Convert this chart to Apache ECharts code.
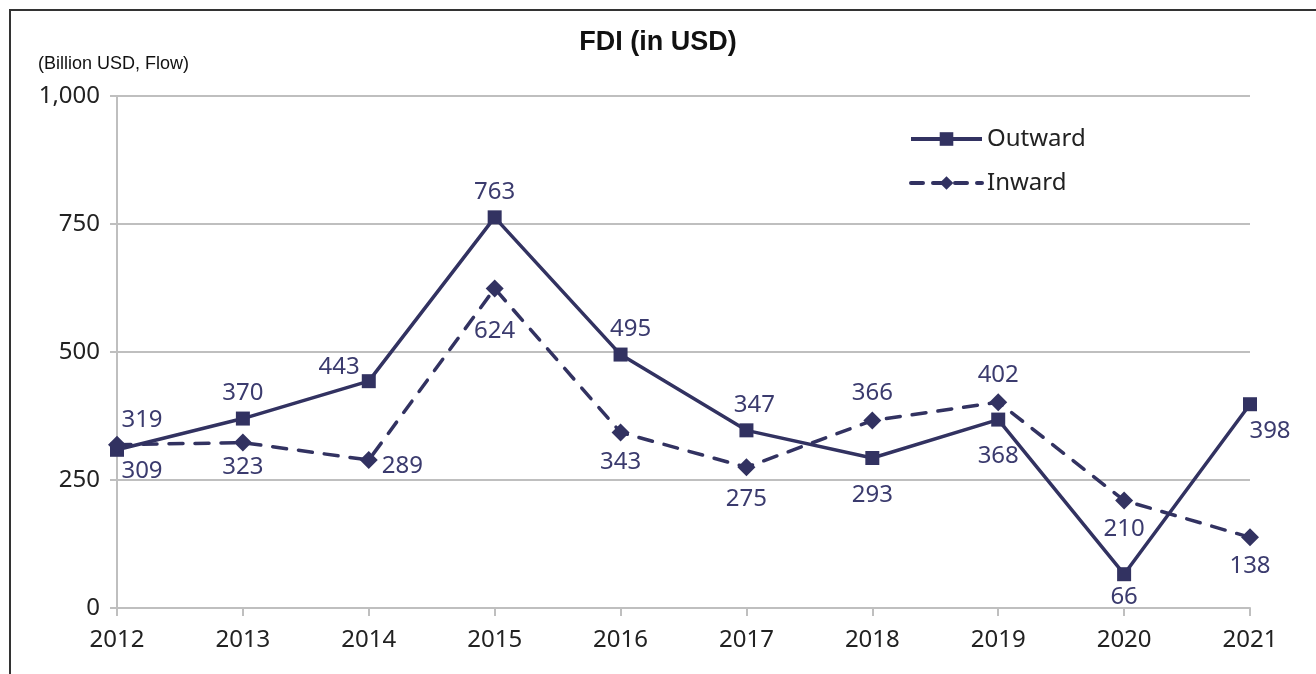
<!DOCTYPE html>
<html lang="en">
<head>
    <meta charset="UTF-8">
    <title>FDI</title>
    <style>
        *{
            margin: 0;
            padding: 0;
        }
        body{
            background: #fff;
            overflow: hidden;
        }
        #frame{
            position: absolute;
            left: 9px;
            top: 9px;
            width: 1400px;
            height: 800px;
            border: 2px solid #333;
        }
    </style>
</head>
<body>
<div id="frame"></div>
<div id="main" style="position:absolute;left:0;top:0;width:1316px;height:674px;"></div>
<script src="https://cdn.jsdelivr.net/npm/echarts@6/dist/echarts.min.js"></script>
<script type="text/javascript">
    var years = ['2012','2013','2014','2015','2016','2017','2018','2019','2020','2021'];
    var outward = [309, 370, 443, 763, 495, 347, 293, 368, 66, 398];
    var inward = [319, 323, 289, 624, 343, 275, 366, 402, 210, 138];
    // label placement per point
    var outPos = ['bottom','top','left','top','top','top','bottom','bottom','bottom','bottom'];
    var inPos = ['top','bottom','right','bottom','bottom','bottom','top','top','bottom','bottom'];

    var navy = '#323261';
    var labelColor = '#3b3b6e';
    var font = '"Noto Sans", "Open Sans", sans-serif';

    function buildData(values, pos, extra){
        var arr = [];
        for(let i = 0; i < values.length; i++){
            let lbl = {position: pos[i]};
            if(extra[i]) Object.assign(lbl, extra[i]);
            arr.push({value: values[i], label: lbl});
        }
        return arr;
    }

    var outExtra = {
        0: {offset: [25, -4]},
        2: {offset: [4, -14]},
        4: {offset: [10, 0]},
        5: {offset: [8, 0]},
        6: {offset: [0, 12]},
        7: {offset: [0, 12]},
        8: {offset: [0, -2]},
        9: {offset: [20, 2]}
    };
    var inExtra = {
        0: {offset: [25, 2]},
        1: {offset: [0, -2]},
        2: {offset: [-2, 6]},
        3: {offset: [0, 16]},
        4: {offset: [0, 3]},
        5: {offset: [0, 5]},
        8: {offset: [0, 2]},
        9: {offset: [0, 2]}
    };

    var myChart = echarts.init(document.getElementById('main'));
    myChart.setOption({
        animation: false,
        title: [{
            text: 'FDI (in USD)',
            left: 'center',
            top: 24,
            textStyle: {fontFamily: 'Liberation Sans, Arial', fontWeight: 'bold', fontSize: 27, color: '#111'}
        }, {
            text: '(Billion USD, Flow)',
            left: 33,
            top: 50,
            textStyle: {fontFamily: 'Liberation Sans, Arial', fontWeight: 'normal', fontSize: 18, color: '#111'}
        }],
        legend: {
            orient: 'vertical',
            left: 904,
            top: 122,
            itemWidth: 71,
            itemHeight: 17,
            itemGap: 20,
            textStyle: {fontFamily: font, fontSize: 24, color: '#222'},
            data: [
                {name: 'Outward', lineStyle: {width: 4, color: navy}},
                {name: 'Inward', lineStyle: {width: 4, color: navy, type: [12, 10], cap: 'round'}}
            ]
        },
        grid: {
            left: 117,
            right: 66,
            top: 96,
            bottom: 66
        },
        xAxis: {
            type: 'category',
            boundaryGap: false,
            data: years,
            axisLine: {lineStyle: {color: '#bfbfbf', width: 2}},
            axisTick: {show: true, length: 8, lineStyle: {color: '#bfbfbf', width: 2}},
            axisLabel: {fontFamily: font, fontSize: 24, color: '#222', margin: 20}
        },
        yAxis: {
            type: 'value',
            min: 0,
            max: 1000,
            interval: 250,
            axisLine: {show: true, lineStyle: {color: '#bfbfbf', width: 2}},
            axisTick: {show: true, length: 7, lineStyle: {color: '#bfbfbf', width: 2}},
            splitLine: {lineStyle: {color: '#bfbfbf', width: 2}},
            axisLabel: {
                fontFamily: font, fontSize: 24, color: '#222', margin: 17,
                formatter: function(v){ return v.toLocaleString('en-US'); }
            }
        },
        series: [
            {
                name: 'Outward',
                type: 'line',
                color: navy,
                symbol: 'rect',
                symbolSize: 14,
                lineStyle: {width: 3.5, color: navy},
                itemStyle: {color: navy},
                label: {show: true, fontFamily: font, fontSize: 24, color: labelColor, distance: 6},
                data: buildData(outward, outPos, outExtra)
            },
            {
                name: 'Inward',
                type: 'line',
                color: navy,
                symbol: 'diamond',
                symbolSize: [18, 18],
                lineStyle: {width: 3.5, color: navy, type: [14, 12], cap: 'round'},
                itemStyle: {color: navy},
                label: {show: true, fontFamily: font, fontSize: 24, color: labelColor, distance: 6},
                data: buildData(inward, inPos, inExtra)
            }
        ]
    });
</script>
</body>
</html>
